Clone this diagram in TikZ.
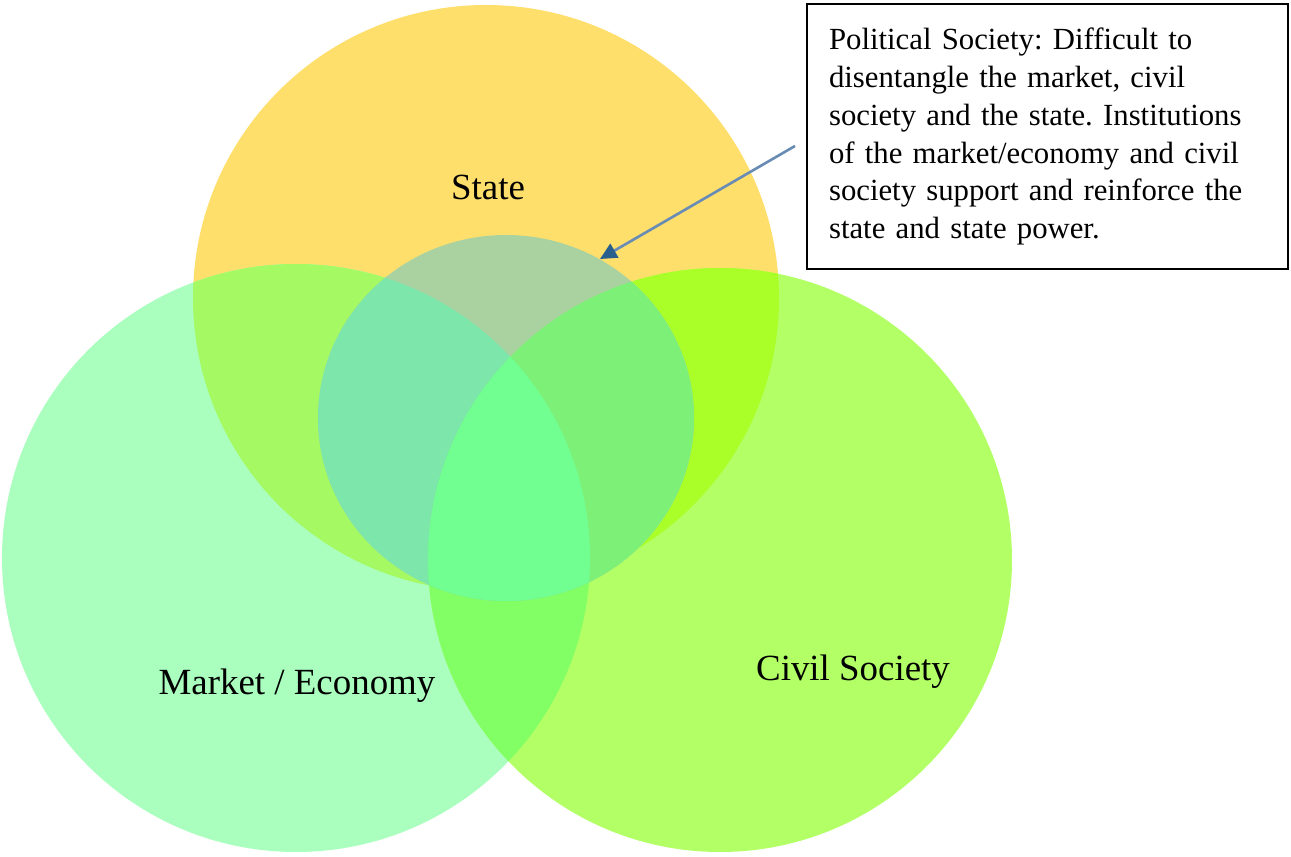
\documentclass[tikz,border=0pt]{standalone}
\usepackage{fontspec}
\setmainfont{Liberation Serif}
\usepackage{tikz}
\usetikzlibrary{arrows.meta}
\definecolor{stateyellow}{RGB}{255, 223, 108}
\definecolor{marketgreen}{RGB}{170, 255, 190}
\definecolor{civilgreen}{RGB}{178, 255, 102}
\definecolor{statemarket}{RGB}{165, 250, 100}
\definecolor{statecivil}{RGB}{170, 255, 40}
\definecolor{marketcivil}{RGB}{130, 255, 100}
\definecolor{allthree}{RGB}{128, 255, 60}
\definecolor{polstate}{RGB}{170, 210, 160}
\definecolor{polmarket}{RGB}{125, 230, 170}
\definecolor{polcivil}{RGB}{125, 240, 120}
\definecolor{polall}{RGB}{112, 255, 144}
\definecolor{arrowblue}{RGB}{105, 140, 180}
\definecolor{tipblue}{RGB}{40, 95, 140}
\frenchspacing

\begin{document}
\begin{tikzpicture}[x=0.02cm, y=-0.02cm,
    lbl/.style={font=\fontsize{21}{25}\selectfont, anchor=base, inner sep=0pt},
    pointer/.style={arrowblue, line width=1.5pt, -{Triangle[length=9.5pt, width=9pt, color=tipblue, fill=tipblue]}}]
    \useasboundingbox (0,0) rectangle (1291,857);
    
    % Circle centres
    \coordinate (S) at (486,298);
    \coordinate (M) at (296,558);
    \coordinate (C) at (720,560);
    \coordinate (P) at (506,418);
    
    % Big circles
    \fill[stateyellow] (S) circle[radius=293];
    \fill[marketgreen] (M) circle[radius=294];
    \fill[civilgreen] (C) circle[radius=292];
    
    % Overlaps of the big circles
    \begin{scope}
        \clip (S) circle[radius=293];
        \fill[statemarket] (M) circle[radius=294];
        \fill[statecivil] (C) circle[radius=292];
    \end{scope}
    \begin{scope}
        \clip (M) circle[radius=294];
        \fill[marketcivil] (C) circle[radius=292];
        \clip (S) circle[radius=293];
        \fill[allthree] (C) circle[radius=292];
    \end{scope}
    
    % Political society circle
    \fill[polstate] (P) circle[x radius=188, y radius=183];
    \begin{scope}
        \clip (P) circle[x radius=188, y radius=183];
        \fill[polmarket] (M) circle[radius=294];
        \fill[polcivil] (C) circle[radius=292];
        \clip (M) circle[radius=294];
        \fill[polall] (C) circle[radius=292];
    \end{scope}
    
    % Labels
    \node[lbl] (state) at (488,200) {State};
    \node[lbl] (market) at (297,694) {Market / Economy};
    \node[lbl] (civil) at (853,680) {Civil Society};
    
    % Note box
    \node[draw, line width=1.2pt, anchor=north west, minimum height=5.3cm,
          text width=8.74cm, inner xsep=0.44cm, align=left,
          font=\fontsize{17.5}{21.6}\selectfont] (note) at (806,3)
        {Political Society: Difficult to\\
         disentangle the market, civil\\
         society and the state. Institutions\\
         of the market/economy and civil\\
         society support and reinforce the\\
         state and state power.};
    
    % Arrow
    \coordinate (tail) at (795,146);
    \coordinate (tip) at (600,259);
    \draw[pointer] (tail) -- (tip);
\end{tikzpicture}
\end{document}
